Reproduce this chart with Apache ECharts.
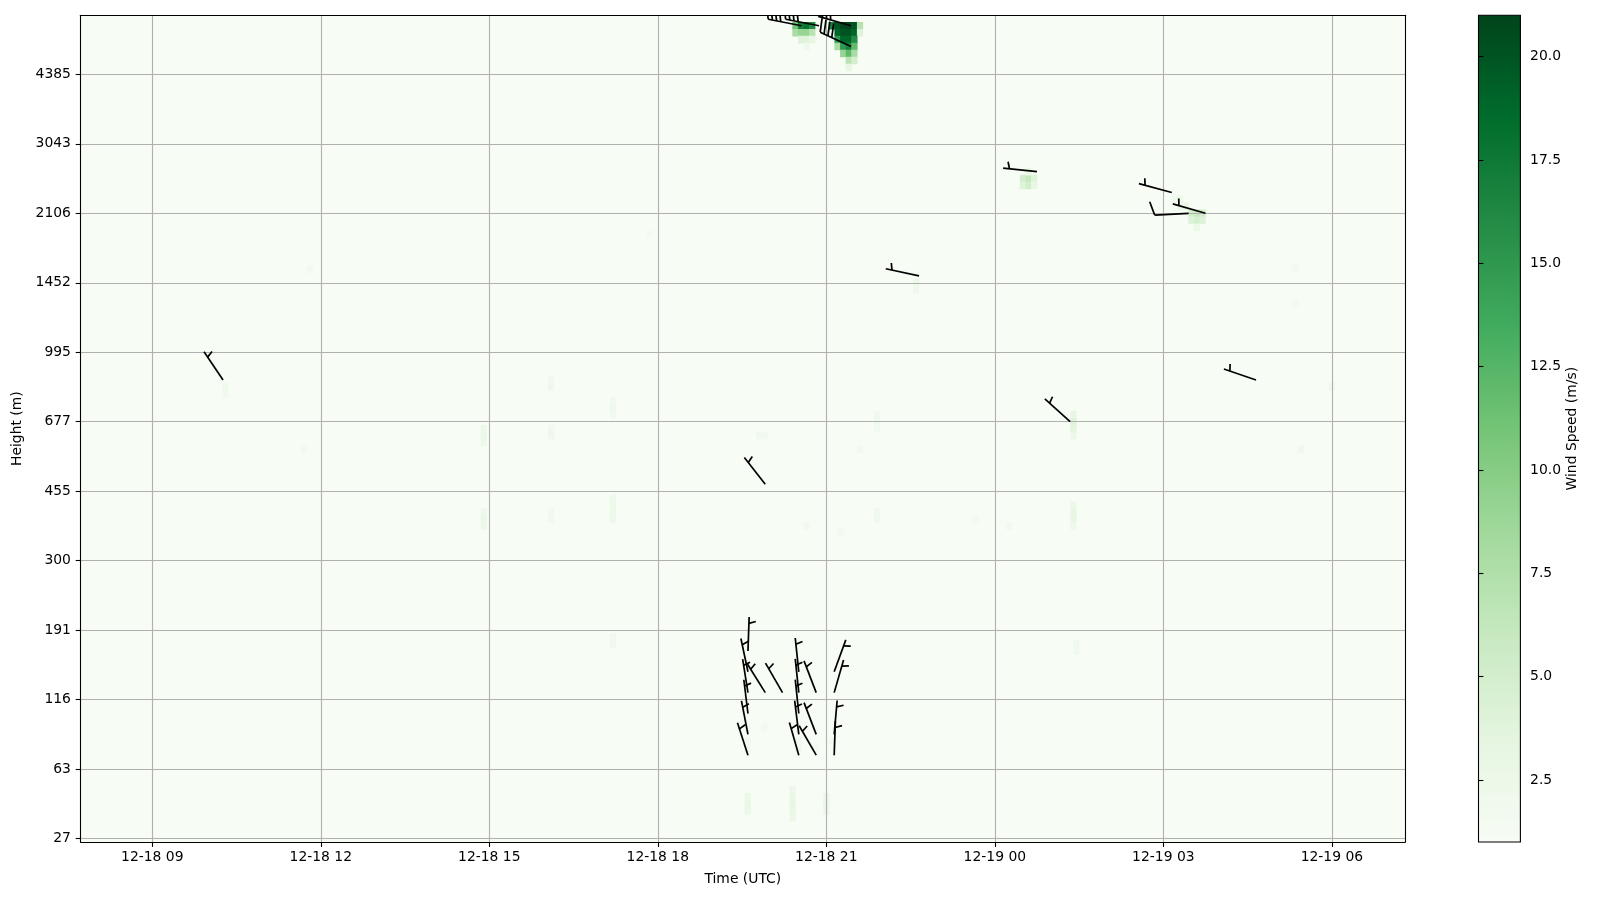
<!DOCTYPE html>
<html><head><meta charset="utf-8">
<script src="https://cdn.jsdelivr.net/npm/echarts@6/dist/echarts.min.js"></script>
<style>html,body{margin:0;padding:0;background:#fff}#c{width:1600px;height:900px}</style>
</head><body><div id="c"></div>
<script>
// Time values are hours since 12-18 00:00 UTC
const xTickHours = [9, 12, 15, 18, 21, 24, 27, 30];
const xTickLabels = ['12-18 09', '12-18 12', '12-18 15', '12-18 18', '12-18 21', '12-19 00', '12-19 03', '12-19 06'];
// Range-gate index and the height (m) shown at every 10th gate
const yTickGates = [0, 10, 20, 30, 40, 50, 60, 70, 80, 90, 100, 110];
const yTickLabels = ['27', '63', '116', '191', '300', '455', '677', '995', '1452', '2106', '3043', '4385'];
const cbTicks = [2.5, 5.0, 7.5, 10.0, 12.5, 15.0, 17.5, 20.0];
const speedMin = 1.0, speedMax = 21.0;

// Wind speed cells [hour, gate, speed m/s] that differ from the calm background
const cells = [
  [20.45,117,11],[20.55,117,17],[20.65,117,18],[20.75,117,16],
  [20.45,116,8],[20.55,116,9],[20.65,116,9],[20.75,116,7],
  [20.55,115,4],[20.65,115,4],[20.75,115,3],[20.65,114,2],
  [21.1,117,17],[21.2,117,20],[21.3,117,21],[21.4,117,21],[21.5,117,20],[21.6,117,7],
  [21.2,116,19],[21.3,116,20],[21.4,116,20],[21.5,116,19],[21.6,116,4],
  [21.2,115,15],[21.3,115,19],[21.4,115,19],[21.5,115,16],
  [21.2,114,8],[21.3,114,15],[21.4,114,17],[21.5,114,12],
  [21.3,113,9],[21.4,113,12],[21.5,113,8],
  [21.4,112,7],[21.5,112,5],[21.4,111,3],
  [24.5,95,5],[24.6,95,6],[24.7,95,4],[24.5,94,4],[24.6,94,5],[24.7,94,3],[24.6,96,2.5],
  [27.5,90,5],[27.6,90,6],[27.7,90,5],[27.5,89,4],[27.6,89,5],[27.7,89,4],
  [27.3,91,2.5],[27.4,91,3],[27.2,92,2],[27.3,92,2.5],[27.6,88,2.5],
  [22.6,80,2.5],[22.6,79,2.2],
  [25.4,61,3],[25.4,60,4],[25.4,59,3.5],[25.4,58,2.5],
  [25.4,48,2.5],[25.4,47,3],[25.4,46,3],[25.4,45,2.2],
  [14.9,59,2.3],[14.9,58,2.6],[14.9,57,2.3],[14.9,47,2.3],[14.9,46,2.6],[14.9,45,2.3],
  [16.1,66,2],[16.1,65,2.2],[16.1,59,2],[16.1,58,2.2],[16.1,47,2],[16.1,46,2],
  [17.2,63,2],[17.2,62,2.2],[17.2,61,2],[17.2,49,2.2],[17.2,48,2.5],[17.2,47,2.5],[17.2,46,2.2],
  [17.2,29,2],[17.2,28,2],
  [10.3,65,2.2],[10.3,64,1.8],[11.8,82,1.7],[11.7,56,1.8],
  [19.8,58,2],[19.9,58,1.8],
  [21.9,61,2],[21.9,60,2],[21.9,59,1.8],[21.9,47,2],[21.9,46,2],[21.6,56,1.8],
  [29.45,56,2],[30.0,65,2],[29.35,82,1.7],[29.35,77,1.6],
  [25.45,28,2],[25.45,27,1.8],
  [23.65,46,1.7],[24.25,45,1.8],[20.65,45,1.7],[21.25,44,1.7],[17.85,87,1.5],
  [19.6,6,2.6],[19.6,5,2.8],[19.6,4,2.5],
  [20.4,7,2.3],[20.4,6,2.8],[20.4,5,3],[20.4,4,2.8],[20.4,3,2.4],
  [21.0,6,2.5],[21.0,5,2.7],[21.0,4,2.4],
  [19.6,14,2],[19.6,13,2.2],[19.6,16,1.8],[19.9,16,1.8],[20.5,14,2],[20.5,13,2],
  [20.8,13,1.8],[21.1,14,1.8],[20.5,22,1.8],[19.6,24,1.8]
];

// Wind barbs [hour, gate, speed m/s, direction wind comes from (deg)]
const barbs = [
  [19.605,27,3,2],[19.605,24,3,348],[19.605,21,3,351],[19.605,18,3,353],[19.605,15,3,349],[19.605,12,3,342],
  [19.913,21,3,328],[19.913,51,3,322],
  [20.22,21,3,330],
  [20.51,24,3,354],[20.51,21,3,354],[20.51,18,3,354],[20.51,15,3,353],[20.51,12,3,344],
  [20.82,21,3,339],[20.82,15,3,339],[20.82,12,3,330],
  [21.14,24,3,20],[21.14,21,3,16],[21.14,15,3,5],[21.14,12,3,2],
  [10.26,66,3,326],[22.65,81,3,282],[24.75,96,3,276],[25.34,60,3,312],
  [27.15,93,3,285],[27.75,90,3,286],[27.45,90,5.5,267],[28.65,66,3,289],
  [20.56,117,20,281],[20.87,117,20,281],[21.44,117,20,286],[21.44,114,20,295]
];

const GREENS = ['#f7fcf5','#e5f5e0','#c7e9c0','#a1d99b','#74c476','#41ab5d','#238b45','#006d2c','#00441b'];
const FONT = 'DejaVu Sans';
const FS = 13.9;
const CELL_W = 0.1;     // hours per time column
const BARB_LEN = 34;    // px
const X_MIN = 7.724, X_MAX = 31.304;
const Y_MIN = -0.5, Y_MAX = 118.5;

const chart = echarts.init(document.getElementById('c'), null, {renderer: 'canvas'});
const txt = {color: '#000', fontFamily: FONT, fontSize: FS};
const lineBlack = {color: '#000', width: 1.1};

function renderCell(params, api) {
  const t = api.value(0), g = api.value(1);
  const a = api.coord([t - CELL_W / 2, g + 0.5]);
  const b = api.coord([t + CELL_W / 2, g - 0.5]);
  const c = api.visual('color');
  return {type: 'rect', shape: {x: a[0] - 0.3, y: a[1] - 0.3, width: b[0] - a[0] + 0.6, height: b[1] - a[1] + 0.6},
    style: {fill: c}};
}

function renderBarb(params, api) {
  const p = api.coord([api.value(0), api.value(1)]);
  const kt = api.value(2) * 1.94384;
  const d = api.value(3) * Math.PI / 180;
  const L = BARB_LEN;
  const sx = Math.sin(d), sy = -Math.cos(d);
  const bx = Math.cos(d), by = Math.sin(d);
  const P = (o, h) => [p[0] + sx * o + bx * h, p[1] + sy * o + by * h];
  let mag = 5 * Math.round(kt / 5);
  const nflags = Math.floor(mag / 50); mag -= nflags * 50;
  const nbarbs = Math.floor(mag / 10); mag -= nbarbs * 10;
  const half = mag >= 5;
  const sp = 0.125 * L, fh = 0.4 * L, fw = 0.25 * L;
  const style = {stroke: '#000', lineWidth: 1.7, fill: null, lineJoin: 'miter'};
  const kids = [{type: 'polyline', shape: {points: [P(0, 0), P(L, 0)]}, style}];
  let off = L;
  for (let i = 0; i < nflags; i++) {
    if (off !== L) off += sp / 2;
    kids.push({type: 'polygon', shape: {points: [P(off, 0), P(off - fw / 2, fh), P(off - fw, 0)]},
      style: {stroke: '#000', lineWidth: 1.7, fill: '#000'}});
    off -= fw + sp;
  }
  for (let i = 0; i < nbarbs; i++) {
    kids.push({type: 'polyline', shape: {points: [P(off, 0), P(off + fw / 2, fh)]}, style});
    off -= sp;
  }
  if (half) {
    if (off === L) off -= 1.5 * sp;
    kids.push({type: 'polyline', shape: {points: [P(off, 0), P(off + fw / 4, fh / 2)]}, style});
  }
  return {type: 'group', children: kids};
}

function renderColorbar(params, api) {
  const a = api.coord([0, speedMax]);
  const b = api.coord([1, speedMin]);
  const stops = GREENS.slice().reverse().map((c, i) => ({offset: i / (GREENS.length - 1), color: c}));
  return {type: 'rect', shape: {x: a[0], y: a[1], width: b[0] - a[0], height: b[1] - a[1]},
    style: {fill: new echarts.graphic.LinearGradient(0, 0, 0, 1, stops), stroke: '#000', lineWidth: 1.1}};
}

const option = {
  animation: false,
  backgroundColor: '#fff',
  grid: [
    {left: 80.6, right: 194.9, top: 15.3, bottom: 58, show: true, backgroundColor: '#f7fcf5', borderWidth: 0, outerBoundsMode: 'none'},
    {left: 1478.5, right: 79.6, top: 15.3, bottom: 58, show: false, outerBoundsMode: 'none'}
  ],
  xAxis: [
    {type: 'value', gridIndex: 0, min: X_MIN, max: X_MAX, position: 'bottom', z: 3,
     axisLine: {show: true, onZero: false, lineStyle: lineBlack},
     axisTick: {show: true, length: 4.9, customValues: xTickHours, lineStyle: lineBlack},
     axisLabel: {customValues: xTickHours, margin: 8, ...txt,
       formatter: v => xTickLabels[xTickHours.indexOf(Math.round(v))] || ''},
     splitLine: {show: true, lineStyle: {color: '#b0b0b0', width: 1.1}},
     name: 'Time (UTC)', nameLocation: 'middle', nameGap: 30, nameTextStyle: txt},
    {type: 'value', gridIndex: 0, min: X_MIN, max: X_MAX, position: 'top', z: 3,
     axisLine: {show: true, onZero: false, lineStyle: lineBlack},
     axisTick: {show: false}, axisLabel: {show: false}, splitLine: {show: false}},
    {type: 'value', gridIndex: 1, min: 0, max: 1, show: false}
  ],
  yAxis: [
    {type: 'value', gridIndex: 0, min: Y_MIN, max: Y_MAX, position: 'left', z: 3,
     axisLine: {show: true, onZero: false, lineStyle: lineBlack},
     axisTick: {show: true, length: 4.9, customValues: yTickGates, lineStyle: lineBlack},
     axisLabel: {customValues: yTickGates, margin: 9.7, ...txt,
       formatter: v => yTickLabels[yTickGates.indexOf(Math.round(v))] || ''},
     splitLine: {show: true, lineStyle: {color: '#b0b0b0', width: 1.1}},
     name: 'Height (m)', nameLocation: 'middle', nameGap: 46, nameRotate: 90, nameTextStyle: txt},
    {type: 'value', gridIndex: 0, min: Y_MIN, max: Y_MAX, position: 'right', z: 3,
     axisLine: {show: true, onZero: false, lineStyle: lineBlack},
     axisTick: {show: false}, axisLabel: {show: false}, splitLine: {show: false}},
    {type: 'value', gridIndex: 1, min: speedMin, max: speedMax, position: 'right', z: 3,
     axisLine: {show: false},
     axisTick: {show: true, length: 4.9, customValues: cbTicks, lineStyle: lineBlack},
     axisLabel: {customValues: cbTicks, margin: 9.7, ...txt, formatter: v => v.toFixed(1)},
     splitLine: {show: false},
     name: 'Wind Speed (m/s)', nameLocation: 'middle', nameGap: 44, nameRotate: 90, nameTextStyle: txt}
  ],
  visualMap: {type: 'continuous', show: false, min: speedMin, max: speedMax, dimension: 2, seriesIndex: 0,
    inRange: {color: GREENS}},
  series: [
    {type: 'custom', xAxisIndex: 0, yAxisIndex: 0, data: cells, renderItem: renderCell, clip: true, z: 1,
     encode: {x: 0, y: 1}, silent: true},
    {type: 'custom', xAxisIndex: 0, yAxisIndex: 0, data: barbs, renderItem: renderBarb, clip: true, z: 5,
     encode: {x: 0, y: 1}, silent: true},
    {type: 'custom', xAxisIndex: 2, yAxisIndex: 2, data: [[0, speedMin, speedMax]], renderItem: renderColorbar, z: 2, silent: true}
  ]
};
chart.setOption(option);
</script>
</body></html>
